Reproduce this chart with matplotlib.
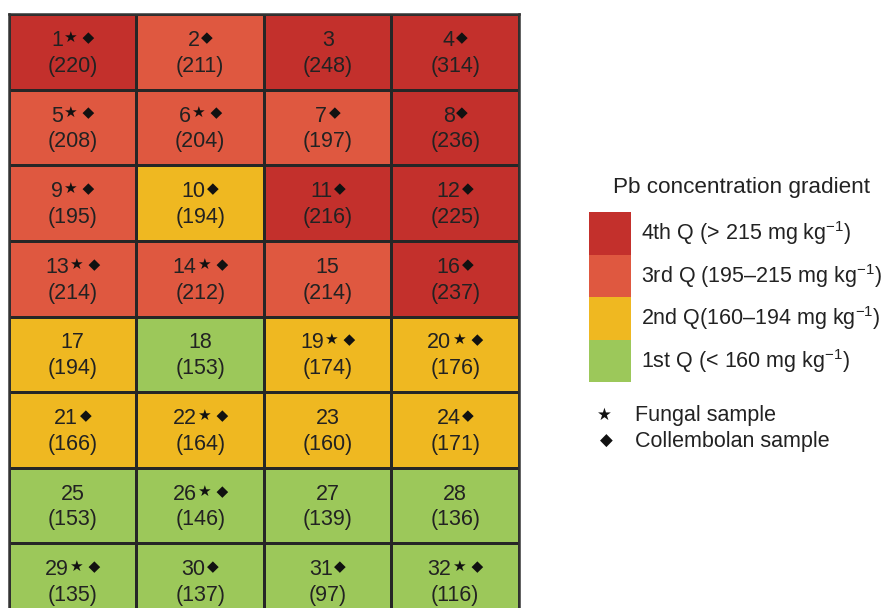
import numpy as np
import matplotlib

matplotlib.use("Agg")
import matplotlib.pyplot as plt
from matplotlib.colors import BoundaryNorm, ListedColormap
from matplotlib.offsetbox import AnnotationBbox, HPacker, TextArea
from matplotlib.patches import Rectangle

plt.rcParams["font.family"] = ["Liberation Sans", "DejaVu Sans"]
plt.rcParams["mathtext.fontset"] = "custom"
plt.rcParams["mathtext.rm"] = "Liberation Sans"
plt.rcParams["mathtext.it"] = "Liberation Sans"

# plot numbers 1..32, 4 columns x 8 rows
plots = np.arange(1, 33).reshape(8, 4)
pb = np.array([
    [220, 211, 248, 314],
    [208, 204, 197, 236],
    [195, 194, 216, 225],
    [214, 212, 214, 237],
    [194, 153, 174, 176],
    [166, 164, 160, 171],
    [153, 146, 139, 136],
    [135, 137, 97, 116],
])
fungal = np.array([
    [1, 0, 0, 0],
    [1, 1, 0, 0],
    [1, 0, 0, 0],
    [1, 1, 0, 0],
    [0, 0, 1, 1],
    [0, 1, 0, 0],
    [0, 1, 0, 0],
    [1, 0, 0, 1],
], dtype=bool)
collembolan = np.array([
    [1, 1, 0, 1],
    [1, 1, 1, 1],
    [1, 1, 1, 1],
    [1, 1, 0, 1],
    [0, 0, 1, 1],
    [1, 1, 0, 1],
    [0, 1, 0, 0],
    [1, 1, 1, 1],
], dtype=bool)

quartile_bounds = [0, 160, 195, 215.5, 400]
quartile_colors = ["#9cc85a", "#efb821", "#df5840", "#c3302c"]
quartile_labels = [
    "1st Q (< 160 mg kg$^{-1}$)",
    "2nd Q(160\u2013194 mg kg$^{-1}$)",
    "3rd Q (195\u2013215 mg kg$^{-1}$)",
    "4th Q (> 215 mg kg$^{-1}$)",
]

cmap = ListedColormap(quartile_colors)
norm = BoundaryNorm(quartile_bounds, cmap.N)

fig = plt.figure(figsize=(8.95, 6.08), dpi=100)
ax = fig.add_axes([9 / 895, 1 - 619 / 608, 510 / 895, 605 / 608])
ax.pcolormesh(pb, cmap=cmap, norm=norm, edgecolors="#262626", linewidth=1.8)
ax.set_xlim(0, 4)
ax.set_ylim(8, 0)
ax.set_xticks([])
ax.set_yticks([])
for s in ax.spines.values():
    s.set_color("#333333")
    s.set_linewidth(1.8)

for r in range(8):
    for c in range(4):
        marks = " ".join(m for m, on in (("\u2605", fungal[r, c]),
                                          ("\u25c6", collembolan[r, c])) if on)
        parts = [TextArea(str(plots[r, c]),
                          textprops=dict(fontsize=15.5, color="#222222"))]
        if marks:
            parts.append(TextArea(marks, textprops=dict(
                fontsize=11, color="#111111", family="DejaVu Sans")))
        head = HPacker(children=parts, align="top", pad=0, sep=1)
        ab = AnnotationBbox(head, (c + 0.5, r + 0.35), frameon=False,
                            box_alignment=(0.5, 0.5), pad=0)
        ax.add_artist(ab)
        ax.text(c + 0.5, r + 0.69, f"({pb[r, c]})", ha="center", va="center",
                fontsize=15.5, color="#222222")

# legend
lax = fig.add_axes([0, 0, 1, 1])
lax.set_xlim(0, 895)
lax.set_ylim(608, 0)
lax.axis("off")
lax.text(742, 188, "Pb concentration gradient", ha="center", va="center",
         fontsize=16.2, color="#222222")
box_top = 212
box_h = 42.5
for i, (col, lab) in enumerate(zip(quartile_colors[::-1], quartile_labels[::-1])):
    y0 = box_top + i * box_h
    lax.add_patch(Rectangle((589, y0), 42, box_h, facecolor=col,
                            edgecolor="none"))
    lax.text(641, y0 + box_h / 2, lab, ha="left", va="center", fontsize=15.5,
             color="#222222")

lax.text(604, 415, "\u2605", ha="center", va="center", fontsize=12,
         family="DejaVu Sans", color="#111111")
lax.text(635, 415, "Fungal sample", ha="left", va="center", fontsize=15.5,
         color="#222222")
lax.text(606, 441, "\u25c6", ha="center", va="center", fontsize=12,
         family="DejaVu Sans", color="#111111")
lax.text(635, 441, "Collembolan sample", ha="left", va="center", fontsize=15.5,
         color="#222222")

fig.savefig("out.png", dpi=100)
